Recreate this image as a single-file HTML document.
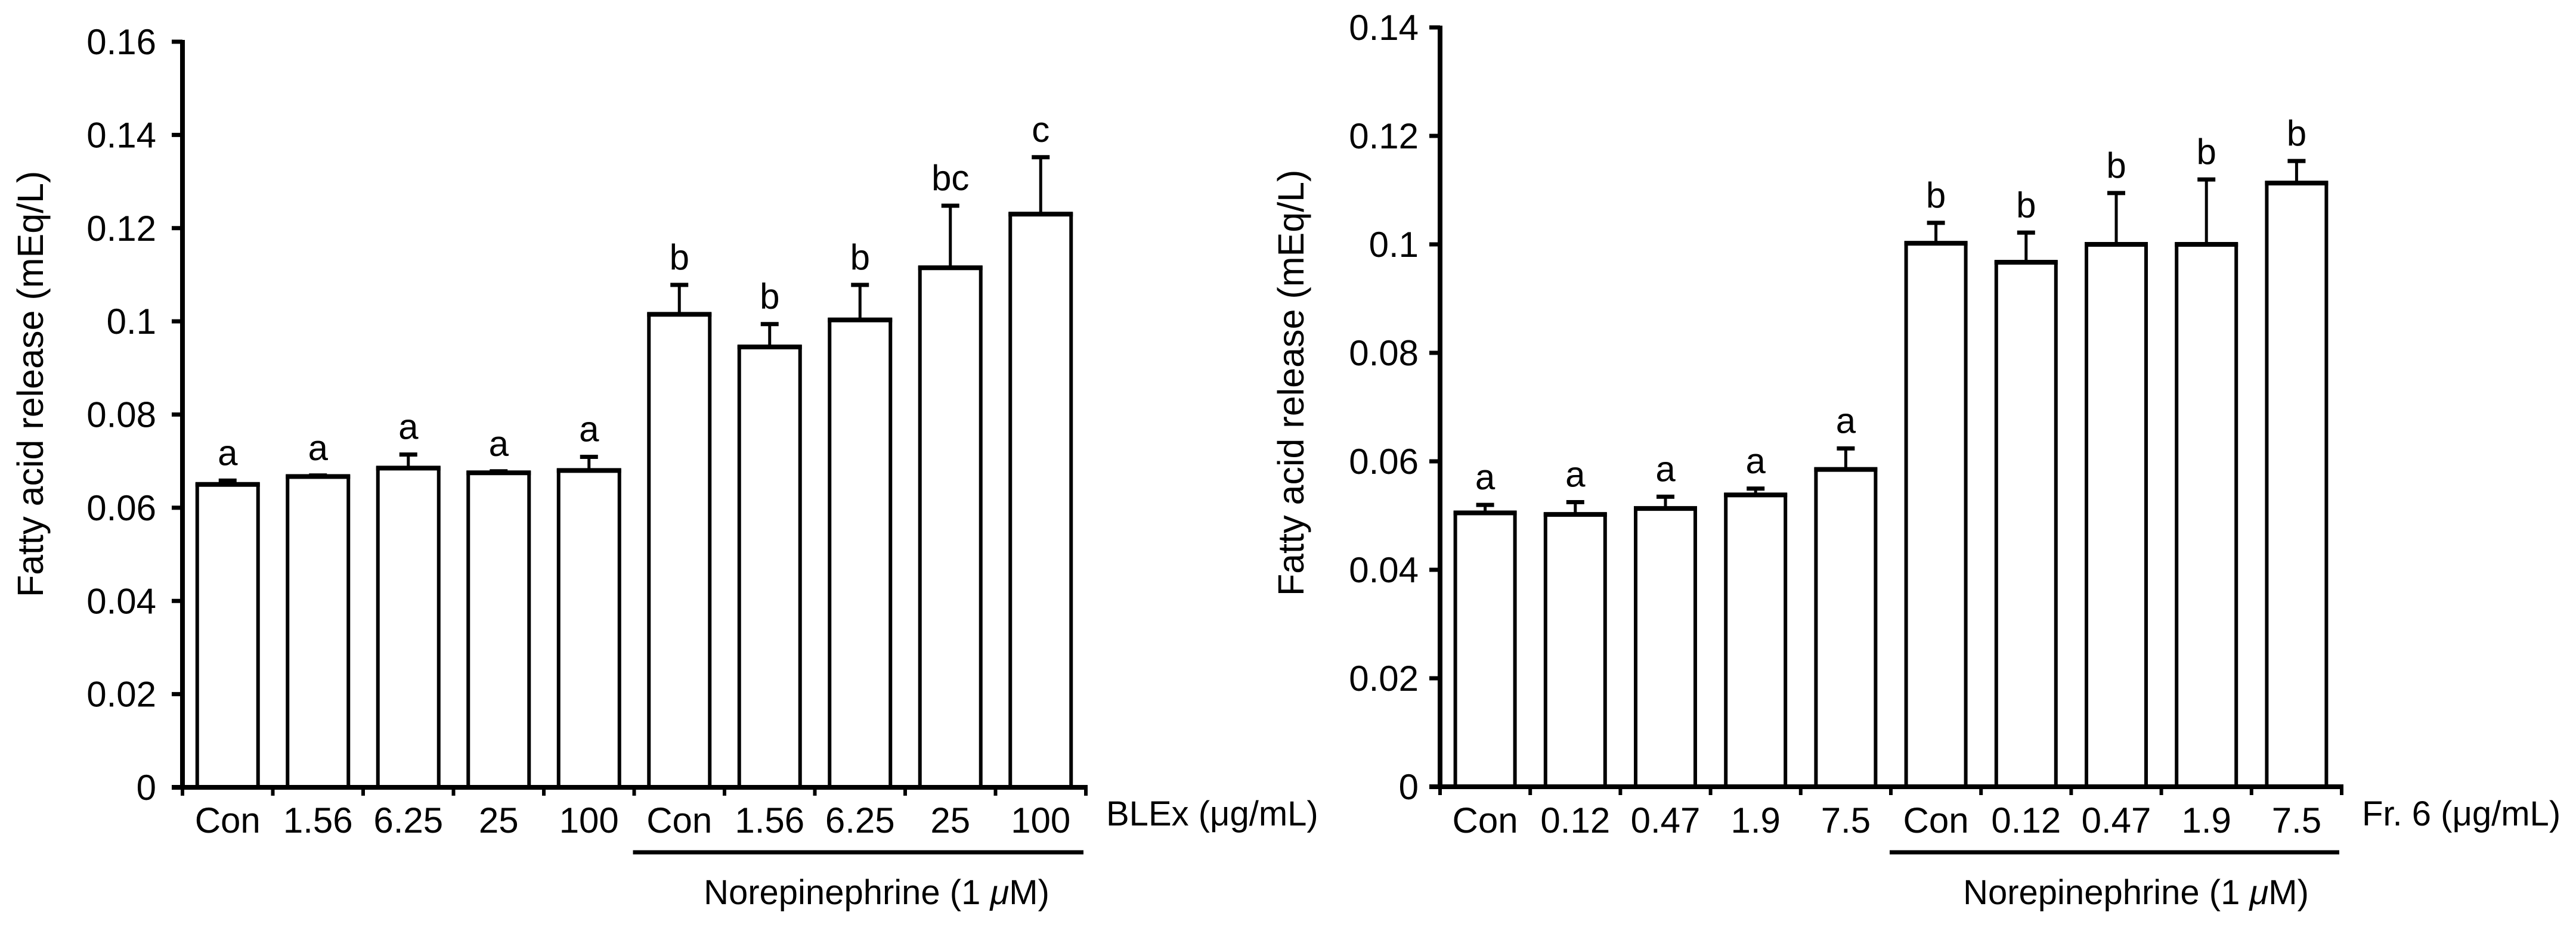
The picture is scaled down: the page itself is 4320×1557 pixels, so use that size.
<!DOCTYPE html>
<html><head><meta charset="utf-8"><title>Fatty acid release</title>
<style>html,body{margin:0;padding:0;background:#fff}svg{display:block}text{font-family:"Liberation Sans",sans-serif;fill:#000}</style>
</head><body>
<svg id="fig" width="4320" height="1557" viewBox="0 0 4320 1557" xmlns="http://www.w3.org/2000/svg"></svg>
<script>
// Left chart data (BLEx)
const leftCategories = ["Con","1.56","6.25","25","100","Con","1.56","6.25","25","100"];
const leftValues = [0.065,0.0667,0.0685,0.0675,0.068,0.1015,0.0945,0.1003,0.1115,0.123];
const leftErrors = [0.0012,0.0006,0.0033,0.0007,0.0033,0.0067,0.0053,0.0079,0.0137,0.0126];
const leftLetters = ["a","a","a","a","a","b","b","b","bc","c"];
const leftTicks = ["0","0.02","0.04","0.06","0.08","0.1","0.12","0.14","0.16"];
// Right chart data (Fr. 6)
const rightCategories = ["Con","0.12","0.47","1.9","7.5","Con","0.12","0.47","1.9","7.5"];
const rightValues = [0.0505,0.0502,0.0513,0.0538,0.0585,0.1002,0.0967,0.1,0.1,0.1113];
const rightErrors = [0.0018,0.0026,0.0025,0.0015,0.0042,0.0041,0.0058,0.0098,0.0123,0.0044];
const rightLetters = ["a","a","a","a","a","b","b","b","b","b"];
const rightTicks = ["0","0.02","0.04","0.06","0.08","0.1","0.12","0.14"];

const NS = "http://www.w3.org/2000/svg";
const svg = document.getElementById("fig");
function mk(tag, attrs, parent){
  const e = document.createElementNS(NS, tag);
  for (const k in attrs) e.setAttribute(k, attrs[k]);
  (parent||svg).appendChild(e);
  return e;
}
function txt(str, x, y, size, anchor, parent){
  const t = mk("text", {x: x, y: y, "font-size": size, "text-anchor": anchor}, parent);
  t.textContent = str;
  return t;
}

function drawChart(cfg){
  const g = mk("g", {});
  
  
  const yMax = cfg.yMax;
  const y = v => cfg.y0 - (v / yMax) * (cfg.y0 - cfg.yTop);
  const n = cfg.cats.length;
  const bw = (cfg.x1 - cfg.x0) / n;
  const xc = i => cfg.x0 + bw * (i + 0.5);

  cfg.ticks.forEach((lab, i) => {
    const v = yMax * i / (cfg.ticks.length - 1);
    const ty = y(v);
    const tk = mk("line", {x1: cfg.x0 - 18, x2: cfg.x0, y1: ty, y2: ty, stroke: "#000", "stroke-width": 7}, g);
    
    
    const tl = txt(lab, cfg.x0 - cfg.labGap, ty + 21, 60, "end", g);
    
    
  });

  cfg.vals.forEach((v, i) => {
    const cx = xc(i), top = y(v), half = cfg.barW / 2;
    const bar = mk("path", {d: "M" + (cx-half) + " " + cfg.y0 + " V" + top + " H" + (cx+half) + " V" + cfg.y0,
      fill: "#fff", stroke: "#000", "stroke-width": 6}, g);
    
    
    const cap = mk("line", {x1: cx-half-3, x2: cx+half+3, y1: top, y2: top, stroke: "#000", "stroke-width": 8}, g);
    
    
    const et = y(v + cfg.errs[i]);
    const el = mk("line", {x1: cx, x2: cx, y1: top, y2: et, stroke: "#000", "stroke-width": 5}, g);
    
    
    const ec = mk("line", {x1: cx-15, x2: cx+15, y1: et+3, y2: et+3, stroke: "#000", "stroke-width": 7}, g);
    
    
    const lt = txt(cfg.letters[i], cx, et - 23, 60, "middle", g);
    
    
    const cl = txt(cfg.cats[i], cx, 1397, 60, "middle", g);
    
    
  });

  const ya = mk("line", {x1: cfg.x0, x2: cfg.x0, y1: cfg.yTop - 3, y2: cfg.y0 + 4, stroke: "#000", "stroke-width": 8}, g);
  
  
  const xa = mk("line", {x1: cfg.x0 - 18, x2: cfg.x1 + 3, y1: cfg.y0, y2: cfg.y0, stroke: "#000", "stroke-width": 8}, g);
  
  
  for (let i = 0; i <= n; i++){
    const tx = cfg.x0 + bw * i;
    const xt = mk("line", {x1: tx, x2: tx, y1: cfg.y0, y2: cfg.y0 + 14, stroke: "#000", "stroke-width": 6}, g);
    
    
  }

  const nl = mk("line", {x1: cfg.x0 + bw*5 - 2, x2: cfg.x1 - 4, y1: 1430, y2: 1430, stroke: "#000", "stroke-width": 7}, g);
  
  
  const nt = mk("text", {x: cfg.normX, y: 1517, "font-size": 58, "text-anchor": "middle"}, g);
  
  
  nt.innerHTML = 'Norepinephrine (1 <tspan font-style="italic">μ</tspan>M)';

  const ul = txt(cfg.unit, cfg.x1 + 34, 1385, 58, "start", g);
  
  

  const yt = mk("text", {x: 0, y: 0, "font-size": 61, "text-anchor": "start",
    transform: "translate(" + cfg.titleX + "," + cfg.titleY + ") rotate(-90)"}, g);
  
  
  yt.textContent = "Fatty acid release (mEq/L)";
}

drawChart({name: "blex-chart", cats: leftCategories, vals: leftValues, errs: leftErrors, letters: leftLetters,
  ticks: leftTicks, yMax: 0.16, x0: 306, x1: 1821, y0: 1321, yTop: 70, barW: 102, labGap: 44,
  normX: 1470, unit: "BLEx (μg/mL)", titleX: 72, titleY: 1002});
drawChart({name: "fr6-chart", cats: rightCategories, vals: rightValues, errs: rightErrors, letters: rightLetters,
  ticks: rightTicks, yMax: 0.14, x0: 2415, x1: 3927, y0: 1320, yTop: 46, barW: 100, labGap: 36,
  normX: 3582, unit: "Fr. 6 (μg/mL)", titleX: 2186, titleY: 1000});
</script>
</body></html>
